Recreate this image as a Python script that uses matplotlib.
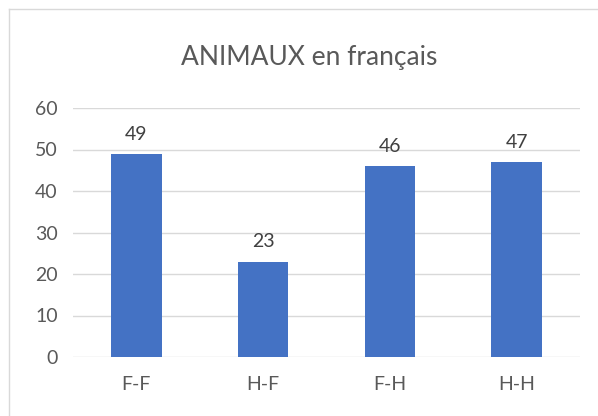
import matplotlib.pyplot as plt
from matplotlib.lines import Line2D

# data
categories = ["F-F", "H-F", "F-H", "H-H"]
values = [49, 23, 46, 47]
yticks = [0, 10, 20, 30, 40, 50, 60]

plt.rcParams['font.family'] = ['Lato', 'DejaVu Sans']
txt = '#595959'

fig = plt.figure(figsize=(5.98, 4.16), dpi=100)
ax = fig.add_axes([73/598, 1 - 357/416, 507/598, 249/416])

x = range(len(categories))
bars = ax.bar(x, values, width=0.4, color='#4472C4', zorder=3)
for b, v in zip(bars, values):
    ax.annotate(str(v), (b.get_x() + b.get_width()/2, v), xytext=(0, 8),
                textcoords='offset points', ha='center', va='bottom',
                fontsize=14, color='#404040')

ax.set_xlim(-0.5, len(categories) - 0.5)
ax.set_ylim(0, 60)
ax.set_yticks(yticks)
ax.set_xticks(list(x))
ax.set_xticklabels(categories)
ax.grid(axis='y', color='#D9D9D9', linewidth=1, zorder=0)
for s in ax.spines.values():
    s.set_visible(False)
ax.tick_params(length=0, labelsize=14, labelcolor=txt)
ax.tick_params(axis='y', pad=11)
ax.tick_params(axis='x', pad=14)

fig.text(309/598, 1 - 57/416, "ANIMAUX en français", ha='center', va='center',
         fontsize=19, color=txt)

# chart border (left and top visible)
fig.add_artist(Line2D([9/598, 9/598], [0, 1 - 9/416], transform=fig.transFigure,
                      color='#D9D9D9', linewidth=1))
fig.add_artist(Line2D([9/598, 1], [1 - 9/416, 1 - 9/416], transform=fig.transFigure,
                      color='#D9D9D9', linewidth=1))

fig.savefig('out.png', dpi=100)
